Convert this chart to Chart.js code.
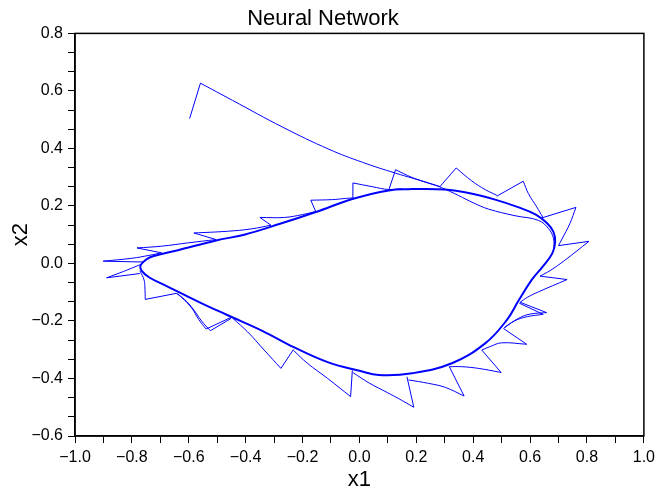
<!DOCTYPE html>
<html>
<head>
<meta charset="utf-8">
<script src="https://cdn.jsdelivr.net/npm/chart.js@4"></script>
<style>
  html, body { margin: 0; padding: 0; background: #fff; }
  #wrap { width: 660px; height: 490px; }
</style>
</head>
<body>
<div id="wrap"><canvas id="phaseChart" width="660" height="490"></canvas></div>
<script>
// 相平面軌跡 (x1, x2)
// limit cycle, clockwise, closed
const limitCycle = [
    [0.185, 0.259], [0.300, 0.257], [0.384, 0.245], [0.477, 0.222], [0.560, 0.195],
    [0.620, 0.170], [0.660, 0.140], [0.682, 0.110], [0.688, 0.075], [0.678, 0.035],
    [0.645, -0.010], [0.605, -0.058], [0.559, -0.130], [0.518, -0.197], [0.442, -0.278],
    [0.325, -0.347], [0.185, -0.382], [0.068, -0.388], [0.000, -0.373], [-0.107, -0.345],
    [-0.229, -0.292], [-0.340, -0.235], [-0.463, -0.180], [-0.562, -0.135], [-0.685, -0.075],
    [-0.740, -0.048], [-0.766, -0.025], [-0.770, -0.008], [-0.752, 0.012], [-0.726, 0.025],
    [-0.638, 0.046], [-0.504, 0.080], [-0.405, 0.100], [-0.282, 0.137], [-0.153, 0.179],
    [-0.025, 0.224], [0.103, 0.254], [0.185, 0.259]
];

// start point, first jump, then the long run onto the cycle
const transientJump = [[-0.597, 0.504], [-0.559, 0.627]];
const transientCurve = [
    [-0.559, 0.627], [-0.446, 0.567], [-0.270, 0.474], [-0.107, 0.397], [0.010, 0.352],
    [0.127, 0.314], [0.243, 0.280], [0.290, 0.263], [0.349, 0.236], [0.400, 0.211],
    [0.454, 0.189], [0.547, 0.166], [0.629, 0.150], [0.664, 0.122], [0.682, 0.088],
    [0.684, 0.050]
];

// each spike: jump start on the cycle, tip, then the curve back to the cycle
const spikes = [
    [[-0.311, 0.133], [-0.350, 0.160], [-0.264, 0.160], [-0.200, 0.170], [-0.153, 0.181]],
    [[-0.153, 0.179], [-0.171, 0.220], [-0.095, 0.222], [-0.050, 0.226], [-0.023, 0.228]],
    [[-0.023, 0.226], [-0.023, 0.280], [0.045, 0.267], [0.103, 0.257], [0.150, 0.260]],
    [[0.103, 0.255], [0.127, 0.326], [0.185, 0.299], [0.240, 0.280], [0.282, 0.268]],
    [[0.282, 0.266], [0.340, 0.332], [0.395, 0.287], [0.442, 0.257], [0.483, 0.237]],
    [[0.483, 0.234], [0.576, 0.286], [0.594, 0.243], [0.623, 0.197], [0.645, 0.160]],
    [[0.640, 0.158], [0.761, 0.195], [0.740, 0.139], [0.712, 0.085], [0.700, 0.062]],
    [[0.700, 0.062], [0.807, 0.077], [0.722, 0.011], [0.670, -0.025], [0.635, -0.044]],
    [[0.635, -0.044], [0.730, -0.056], [0.629, -0.099], [0.590, -0.118], [0.565, -0.135]],
    [[0.565, -0.135], [0.658, -0.171], [0.600, -0.176], [0.559, -0.191], [0.510, -0.222]],
    [[0.562, -0.138], [0.646, -0.177], [0.590, -0.185], [0.545, -0.200], [0.508, -0.225]],
    [[0.506, -0.226], [0.588, -0.281], [0.500, -0.276], [0.462, -0.288], [0.430, -0.301]],
    [[0.430, -0.301], [0.498, -0.379], [0.419, -0.365], [0.360, -0.359], [0.316, -0.359]],
    [[0.316, -0.359], [0.368, -0.461], [0.302, -0.431], [0.243, -0.417], [0.173, -0.405]],
    [[0.167, -0.394], [0.191, -0.500], [0.138, -0.470], [0.100, -0.450], [0.033, -0.415], [-0.022, -0.380]],
    [[-0.025, -0.372], [-0.031, -0.463], [-0.113, -0.399], [-0.183, -0.347], [-0.232, -0.302]],
    [[-0.232, -0.299], [-0.276, -0.365], [-0.335, -0.301], [-0.393, -0.238], [-0.445, -0.191]],
    [[-0.451, -0.191], [-0.524, -0.234], [-0.555, -0.200], [-0.585, -0.158], [-0.615, -0.125], [-0.644, -0.104]],
    [[-0.446, -0.185], [-0.539, -0.228], [-0.565, -0.195], [-0.592, -0.152], [-0.640, -0.104]],
    [[-0.644, -0.104], [-0.753, -0.125], [-0.754, -0.090], [-0.757, -0.058], [-0.772, -0.025]],
    [[-0.772, -0.035], [-0.889, -0.050], [-0.830, -0.028], [-0.790, -0.012], [-0.761, 0.000]],
    [[-0.760, 0.005], [-0.901, 0.008], [-0.800, 0.018], [-0.740, 0.028], [-0.696, 0.037]],
    [[-0.696, 0.037], [-0.782, 0.054], [-0.696, 0.060], [-0.600, 0.072], [-0.504, 0.083]],
    [[-0.504, 0.083], [-0.582, 0.106], [-0.463, 0.112], [-0.381, 0.120], [-0.311, 0.133]]
];

// axes
const xMin = -1.0, xMax = 1.0, xStep = 0.1, xMajor = 0.2;
const yMin = -0.6, yMax = 0.8, yStep = 0.2 / 3, yMajor = 0.2;

const FONT = '"Liberation Sans", Arial, sans-serif';
const BLUE = '#0000ff';

function toPts(list) {
    return list.map(p => ({ x: p[0], y: p[1] }));
}

function lineSet(list, width, tension) {
    return {
        data: toPts(list),
        borderColor: BLUE,
        borderWidth: width,
        tension: tension,
        pointRadius: 0,
        fill: false
    };
}

const datasets = [lineSet(limitCycle, 2, 0.4)];
datasets.push(lineSet(transientJump, 1, 0));
datasets.push(lineSet(transientCurve, 1, 0.4));
spikes.forEach(s => {
    datasets.push(lineSet(s.slice(0, 2), 1, 0));   // 跳躍
    datasets.push(lineSet(s.slice(1), 1, 0.4));    // 回到極限環
});

function isMajor(v, major) {
    return Math.abs(v / major - Math.round(v / major)) < 1e-6;
}

function fmt(v) {
    const s = Math.abs(v).toFixed(1);
    return v < -1e-9 ? '\u2212' + s : s;
}

const framePlugin = {
    id: 'frame',
    afterDraw(chart) {
        const { ctx, chartArea: a } = chart;
        ctx.save();
        ctx.strokeStyle = '#000';
        ctx.lineWidth = 1.5;
        ctx.strokeRect(a.left, a.top, a.right - a.left, a.bottom - a.top);
        ctx.restore();
    }
};

new Chart(document.getElementById('phaseChart'), {
    type: 'line',
    data: { datasets: datasets },
    plugins: [framePlugin],
    options: {
        responsive: false,
        animation: false,
        layout: { padding: { left: 0, right: 14, top: 0, bottom: 0 } },
        plugins: {
            legend: { display: false },
            tooltip: { enabled: false },
            title: {
                display: true,
                text: 'Neural Network',
                color: '#000',
                font: { family: FONT, size: 22, weight: 'normal', lineHeight: 1.2 },
                padding: { top: 6, bottom: 1 }
            }
        },
        scales: {
            x: {
                type: 'linear',
                min: xMin,
                max: xMax,
                afterFit: s => { s.height = 54; },
                border: { display: true, color: '#000', width: 1.5 },
                grid: { drawOnChartArea: false, drawTicks: true, tickLength: 7, color: '#000', lineWidth: 1 },
                ticks: {
                    stepSize: xStep,
                    maxTicksLimit: 40,
                    autoSkip: false,
                    maxRotation: 0,
                    minRotation: 0,
                    padding: 5,
                    color: '#000',
                    font: { family: FONT, size: 16 },
                    callback: v => isMajor(v, xMajor) ? fmt(v) : ''
                },
                title: {
                    display: true,
                    text: 'x1',
                    color: '#000',
                    font: { family: FONT, size: 22, lineHeight: 0.9 },
                    padding: { top: 0, bottom: 0 }
                }
            },
            y: {
                type: 'linear',
                min: yMin,
                max: yMax,
                afterFit: s => { s.width = 75; },
                border: { display: true, color: '#000', width: 1.5 },
                grid: { drawOnChartArea: false, drawTicks: true, tickLength: 7, color: '#000', lineWidth: 1 },
                ticks: {
                    stepSize: yStep,
                    maxTicksLimit: 40,
                    autoSkip: false,
                    padding: 5,
                    color: '#000',
                    font: { family: FONT, size: 16 },
                    callback: v => isMajor(v, yMajor) ? fmt(v) : ''
                },
                title: {
                    display: true,
                    text: 'x2',
                    color: '#000',
                    font: { family: FONT, size: 22, lineHeight: 1.2 },
                    padding: { top: 7.6, bottom: 0 }
                }
            }
        }
    }
});
</script>
</body>
</html>
